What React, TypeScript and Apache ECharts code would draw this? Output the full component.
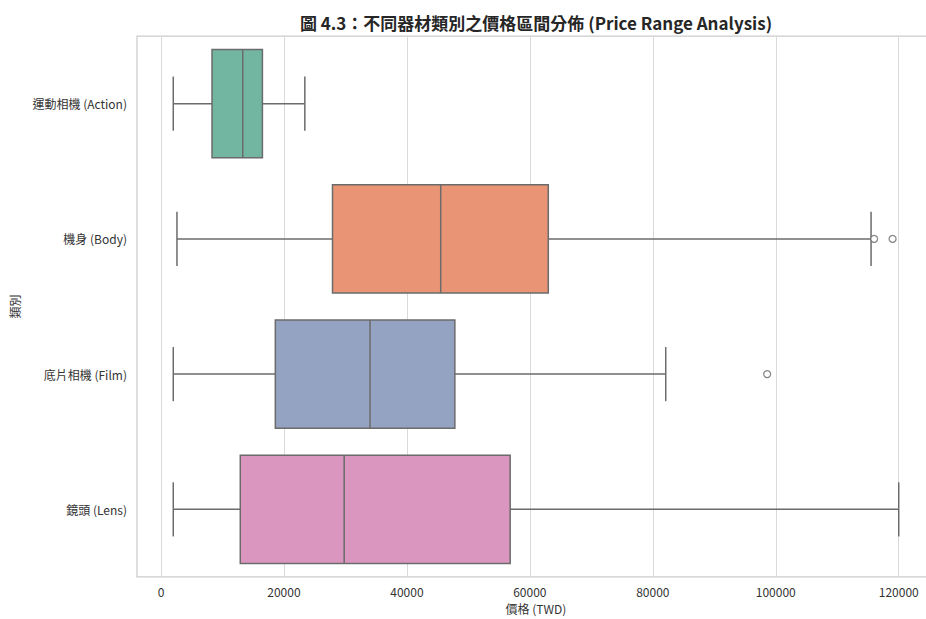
import React, { useEffect, useRef } from "react";
import * as echarts from "echarts";

const categories = ["運動相機 (Action)", "機身 (Body)", "底片相機 (Film)", "鏡頭 (Lens)"];
// [low whisker, Q1, median, Q3, high whisker]
const boxStats = [
  [2000, 8300, 13300, 16500, 23400],
  [2600, 27900, 45500, 63000, 115500],
  [2000, 18600, 34000, 47800, 82100],
  [2000, 12900, 29800, 56800, 120000],
];
const outliers = [
  [116000, "機身 (Body)"],
  [119000, "機身 (Body)"],
  [98600, "底片相機 (Film)"],
];
const boxColors = ["#72b6a1", "#e99575", "#95a3c3", "#db96c0"];
const xTicks = [0, 20000, 40000, 60000, 80000, 100000, 120000];

const LINE = "#6b6b6b";
const FONT = "'Noto Sans CJK TC', 'Noto Sans', sans-serif";

export default function App() {
  const ref = useRef<HTMLDivElement>(null);
  useEffect(() => {
    if (!ref.current) return;
    const chart = echarts.init(ref.current, null, { renderer: "svg" });
    const boxData = boxStats.map((s, i) => [i, ...s]);
    chart.setOption({
      animation: false,
      backgroundColor: "#ffffff",
      graphic: [
        {
          type: "text",
          x: 536,
          y: 22,
          style: {
            text: "圖 4.3：不同器材類別之價格區間分佈 (Price Range Analysis)",
            fontFamily: FONT,
            fontSize: 17,
            fontWeight: "bold",
            fill: "#262626",
            textAlign: "center",
            textVerticalAlign: "middle",
          },
        },
      ],
      grid: {
        left: 137,
        top: 36,
        right: 5,
        bottom: 33,
        show: true,
        borderColor: "#cccccc",
        borderWidth: 1.25,
        containLabel: false,
      },
      xAxis: {
        type: "value",
        min: -3900,
        max: 125900,
        name: "價格 (TWD)",
        nameLocation: "middle",
        nameGap: 25,
        nameTextStyle: { fontFamily: FONT, fontSize: 12, color: "#333333" },
        axisLine: { show: false },
        axisTick: { show: false, customValues: xTicks },
        axisLabel: {
          customValues: xTicks,
          formatter: (v: number) => String(v),
          fontFamily: FONT,
          fontSize: 12,
          color: "#333333",
          margin: 8,
        },
        splitLine: { show: true, lineStyle: { color: "#d9d9d9", width: 1 } },
      },
      yAxis: {
        type: "category",
        data: categories,
        inverse: true,
        name: "類別",
        nameLocation: "middle",
        nameGap: 117,
        nameRotate: 90,
        nameTextStyle: { fontFamily: FONT, fontSize: 12, color: "#333333" },
        axisLine: { show: false },
        axisTick: { show: false },
        axisLabel: { fontFamily: FONT, fontSize: 12, color: "#333333", margin: 10 },
        splitLine: { show: false },
      },
      series: [
        {
          type: "custom",
          data: boxData,
          encode: { x: [1, 2, 3, 4, 5], y: 0 },
          z: 3,
          renderItem: (params: any, api: any) => {
            const idx = api.value(0);
            const lo = api.coord([api.value(1), idx]);
            const q1 = api.coord([api.value(2), idx]);
            const med = api.coord([api.value(3), idx]);
            const q3 = api.coord([api.value(4), idx]);
            const hi = api.coord([api.value(5), idx]);
            const band = api.size([0, 1])[1];
            const bh = band * 0.8;
            const ch = band * 0.4;
            const cy = lo[1];
            const ls = { stroke: LINE, lineWidth: 1.5 };
            return {
              type: "group",
              children: [
                { type: "line", shape: { x1: lo[0], y1: cy, x2: q1[0], y2: cy }, style: ls },
                { type: "line", shape: { x1: q3[0], y1: cy, x2: hi[0], y2: cy }, style: ls },
                { type: "line", shape: { x1: lo[0], y1: cy - ch / 2, x2: lo[0], y2: cy + ch / 2 }, style: ls },
                { type: "line", shape: { x1: hi[0], y1: cy - ch / 2, x2: hi[0], y2: cy + ch / 2 }, style: ls },
                {
                  type: "rect",
                  shape: { x: q1[0], y: cy - bh / 2, width: q3[0] - q1[0], height: bh },
                  style: { fill: boxColors[idx], stroke: LINE, lineWidth: 1.5 },
                },
                { type: "line", shape: { x1: med[0], y1: cy - bh / 2, x2: med[0], y2: cy + bh / 2 }, style: ls },
              ],
            };
          },
        },
        {
          type: "scatter",
          data: outliers,
          symbol: "circle",
          symbolSize: 7,
          z: 4,
          itemStyle: { color: "#ffffff", borderColor: LINE, borderWidth: 1.3 },
        },
      ],
    });
    return () => chart.dispose();
  }, []);
  return (
    <div style={{ position: "fixed", left: 0, top: 0, width: 926, height: 619, overflow: "hidden", background: "#fff" }}>
      <div ref={ref} style={{ position: "absolute", left: 0, top: 0, width: 940, height: 619 }} />
    </div>
  );
}
